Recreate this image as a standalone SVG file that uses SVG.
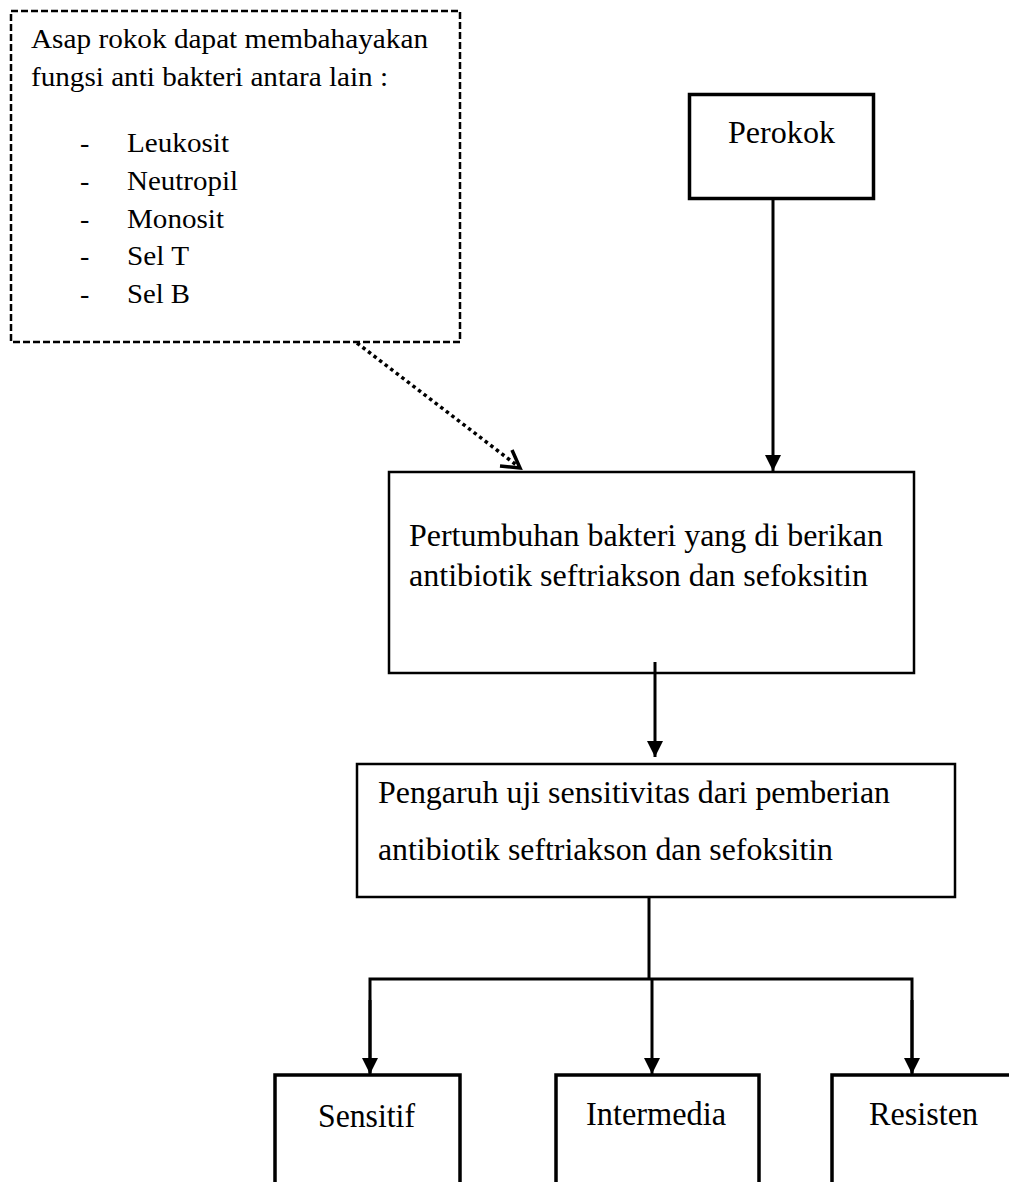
<svg xmlns="http://www.w3.org/2000/svg" width="1009" height="1182" viewBox="0 0 1009 1182">
  <style>
    .t { font-family: "Liberation Serif", "Times New Roman", serif; fill: #000; }
    .box { fill: #fff; stroke: #000; }
    .conn { fill: none; stroke: #000; stroke-width: 3; }
  </style>
  <defs>
    <marker id="arr" markerUnits="userSpaceOnUse" markerWidth="18" markerHeight="18" refX="16" refY="8" orient="auto">
      <path d="M0,0 L16,8 L0,16 Z" fill="#000"/>
    </marker>
  </defs>
  <rect x="0" y="0" width="1009" height="1182" fill="#fff"/>

  <g id="node-asap">
    <rect x="11" y="11" width="449" height="331" fill="#fff" stroke="#000" stroke-width="2.5" stroke-dasharray="7 3"/>
    <text class="t" font-size="28" x="31" y="48" textLength="397" lengthAdjust="spacingAndGlyphs">Asap rokok dapat membahayakan</text>
    <text class="t" font-size="28" x="31" y="86" textLength="357" lengthAdjust="spacingAndGlyphs">fungsi anti bakteri antara lain :</text>
    <text class="t" font-size="28" x="80" y="152">-</text>
    <text class="t" font-size="28" x="127" y="152" textLength="102" lengthAdjust="spacingAndGlyphs">Leukosit</text>
    <text class="t" font-size="28" x="80" y="190">-</text>
    <text class="t" font-size="28" x="127" y="190" textLength="111" lengthAdjust="spacingAndGlyphs">Neutropil</text>
    <text class="t" font-size="28" x="80" y="228">-</text>
    <text class="t" font-size="28" x="127" y="228" textLength="97" lengthAdjust="spacingAndGlyphs">Monosit</text>
    <text class="t" font-size="28" x="80" y="265">-</text>
    <text class="t" font-size="28" x="127" y="265" textLength="62" lengthAdjust="spacingAndGlyphs">Sel T</text>
    <text class="t" font-size="28" x="80" y="303">-</text>
    <text class="t" font-size="28" x="127" y="303" textLength="63" lengthAdjust="spacingAndGlyphs">Sel B</text>
  </g>

  <g id="node-perokok">
    <rect class="box" x="689.5" y="94.5" width="184" height="104" stroke-width="3.5"/>
    <text class="t" font-size="31" x="728" y="143" textLength="107" lengthAdjust="spacingAndGlyphs">Perokok</text>
  </g>

  <g id="node-pertumbuhan">
    <rect class="box" x="389" y="472" width="525" height="201" stroke-width="2.5"/>
    <text class="t" font-size="31" x="409" y="546" textLength="474" lengthAdjust="spacingAndGlyphs">Pertumbuhan bakteri yang di berikan</text>
    <text class="t" font-size="31" x="409" y="586" textLength="459" lengthAdjust="spacingAndGlyphs">antibiotik seftriakson dan sefoksitin</text>
  </g>

  <g id="node-pengaruh">
    <rect class="box" x="357" y="764" width="598" height="133" stroke-width="2.5"/>
    <text class="t" font-size="31" x="378" y="803" textLength="512" lengthAdjust="spacingAndGlyphs">Pengaruh uji sensitivitas dari pemberian</text>
    <text class="t" font-size="31" x="378" y="860" textLength="455" lengthAdjust="spacingAndGlyphs">antibiotik seftriakson dan sefoksitin</text>
  </g>

  <g id="node-sensitif">
    <rect class="box" x="275" y="1075" width="185" height="140" stroke-width="3.5"/>
    <text class="t" font-size="33" x="318" y="1127" textLength="97" lengthAdjust="spacingAndGlyphs">Sensitif</text>
  </g>

  <g id="node-intermedia">
    <rect class="box" x="556" y="1075" width="203" height="140" stroke-width="3.5"/>
    <text class="t" font-size="33" x="586" y="1125" textLength="140" lengthAdjust="spacingAndGlyphs">Intermedia</text>
  </g>

  <g id="node-resisten">
    <rect class="box" x="832" y="1075" width="200" height="140" stroke-width="3.5"/>
    <text class="t" font-size="33" x="869" y="1125" textLength="109" lengthAdjust="spacingAndGlyphs">Resisten</text>
  </g>

  <g id="connectors">
    <line x1="357" y1="343" x2="519" y2="467" stroke="#000" stroke-width="3.5" stroke-dasharray="3.5 3.5"/>
    <polyline points="512,450 520,468 500,466" fill="none" stroke="#000" stroke-width="3.5"/>
    <line class="conn" x1="773" y1="200" x2="773" y2="471" marker-end="url(#arr)"/>
    <line class="conn" x1="655" y1="662" x2="655" y2="757" marker-end="url(#arr)"/>
    <line class="conn" x1="649" y1="897" x2="649" y2="979" stroke-width="3.5"/>
    <polyline class="conn" points="370,1073 370,979 912,979 912,1073" stroke-width="3.5"/>
    <line class="conn" x1="370" y1="1000" x2="370" y2="1074" marker-end="url(#arr)"/>
    <line class="conn" x1="652" y1="979" x2="652" y2="1074" marker-end="url(#arr)"/>
    <line class="conn" x1="912" y1="1000" x2="912" y2="1074" marker-end="url(#arr)"/>
  </g>
</svg>
